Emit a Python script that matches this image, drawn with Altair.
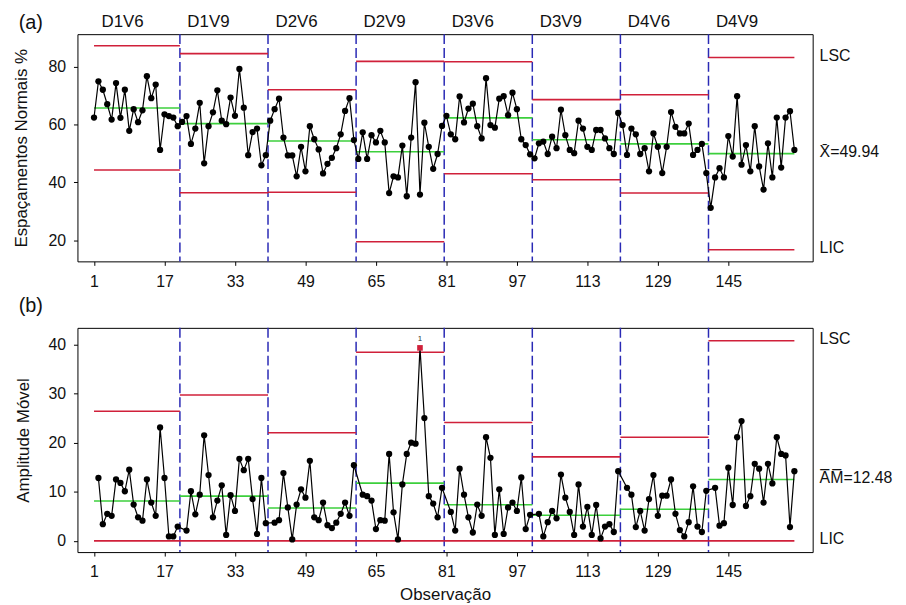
import altair as alt
import pandas as pd

# ---------------- data ----------------
stages = ["D1V6", "D1V9", "D2V6", "D2V9", "D3V6", "D3V9", "D4V6", "D4V9"]
x_ticks = [1, 17, 33, 49, 65, 81, 97, 113, 129, 145]
y_ticks_a = [20, 40, 60, 80]
y_ticks_b = [0, 10, 20, 30, 40]

# (a) individual values, 20 observations per stage
values_a = [
    62.4, 74.9, 72.0, 67.0, 61.7, 74.3, 62.3, 72.0, 57.8, 65.3, 60.8, 64.9, 76.7, 69.1, 73.8, 51.2, 63.5, 62.9, 62.4, 59.4,
    60.9, 62.9, 53.3, 58.6, 67.5, 46.6, 59.4, 64.2, 71.8, 61.3, 60.1, 69.3, 63.0, 79.2, 65.8, 49.4, 57.4, 58.6, 45.9, 49.4,
    61.3, 65.3, 68.9, 55.5, 49.3, 49.3, 42.1, 52.3, 43.8, 59.4, 54.9, 51.4, 43.1, 46.4, 48.5, 51.8, 56.6, 64.7, 69.1, 54.6,
    48.1, 57.3, 48.1, 56.3, 53.8, 57.8, 53.8, 36.3, 42.1, 41.7, 52.7, 35.2, 55.5, 74.6, 35.8, 60.6, 52.3, 44.7, 49.8, 59.5,
    63.0, 56.6, 54.9, 69.7, 60.7, 65.5, 67.2, 59.4, 55.2, 76.0, 59.8, 58.9, 68.9, 69.8, 63.2, 71.0, 65.3, 54.9, 52.9, 49.7,
    48.3, 53.5, 54.1, 49.8, 55.8, 51.8, 65.1, 56.3, 51.2, 50.1, 61.3, 58.6, 52.3, 51.2, 58.1, 58.1, 55.2, 51.8, 49.8, 64.0,
    59.8, 49.5, 58.6, 56.6, 49.8, 51.8, 43.8, 56.9, 52.3, 43.2, 52.3, 64.3, 59.2, 56.9, 56.9, 60.3, 49.5, 51.2, 53.3, 43.2,
    31.2, 41.7, 44.9, 41.7, 56.0, 48.9, 69.8, 46.1, 52.9, 43.8, 59.4, 45.5, 37.5, 53.5, 41.7, 62.4, 45.1, 62.4, 64.6, 51.2,
]

# (b) moving ranges (first observation of each stage has none)
values_b = [
    None, 12.8, 3.4, 5.5, 5.1, 12.5, 11.8, 10.1, 14.5, 7.4, 4.8, 4.1, 12.5, 7.8, 5.1, 23.1, 12.8, 0.9, 0.9, 2.9,
    None, 2.1, 10.1, 5.4, 9.4, 21.5, 13.4, 4.8, 8.2, 11.3, 1.2, 9.3, 6.1, 16.7, 14.4, 16.7, 8.5, 1.4, 12.8, 3.6,
    None, 3.7, 4.2, 13.8, 6.8, 0.3, 7.4, 10.5, 8.8, 16.3, 4.8, 4.2, 7.8, 3.2, 2.6, 3.7, 5.5, 7.8, 5.1, 15.4,
    None, 9.4, 9.1, 8.2, 2.4, 4.2, 4.1, 17.7, 5.8, 0.3, 11.5, 17.7, 20.0, 19.8, 39.3, 25.0, 9.1, 7.6, 4.8, 10.8,
    None, 5.9, 2.1, 14.7, 9.4, 4.8, 1.7, 7.4, 5.1, 21.1, 16.9, 1.2, 10.5, 1.4, 6.8, 7.8, 6.1, 12.9, 2.4, 5.3,
    None, 5.5, 0.9, 3.8, 6.1, 4.6, 13.5, 8.8, 5.9, 1.2, 11.5, 2.9, 6.9, 1.2, 7.3, 0.5, 2.9, 3.4, 1.8, 14.2,
    None, 10.8, 9.4, 2.8, 6.1, 2.1, 8.5, 13.4, 5.1, 9.2, 9.2, 12.5, 5.5, 2.2, 0.9, 3.8, 11.1, 2.9, 1.8, 10.2,
    None, 10.8, 3.1, 3.6, 14.9, 7.3, 21.1, 24.4, 7.1, 9.1, 15.7, 14.7, 7.8, 15.7, 11.7, 21.1, 17.7, 17.4, 2.8, 14.2,
]

center_a = [65.7, 60.3, 54.3, 50.6, 62.3, 54.75, 53.3, 49.94]
upper_a = [87.2, 84.5, 72.0, 81.8, 81.7, 68.6, 70.3, 83.14]
lower_a = [44.3, 36.4, 36.6, 19.5, 43.0, 40.9, 36.3, 16.74]

center_b = [8.1, 9.1, 6.7, 11.75, 7.35, 5.2, 6.45, 12.48]
upper_b = [26.4, 29.7, 22.0, 38.4, 24.1, 17.1, 21.1, 40.77]
lower_b = [0, 0, 0, 0, 0, 0, 0, 0]

right_a = ["LSC", "X\u0304=49.94", "LIC"]
right_b = ["LSC", "A\u0305M\u0305=12.48", "LIC"]

# ---------------- styling / layout ----------------
FONT = "Liberation Sans"
TXT = "#111111"
RED = "#d0203a"
GREEN = "#3ccf3c"
BLUE = "#2a2ab5"
W = 741
H_A = 229
H_B = 226
X_DOMAIN = [-2.76, 164.15]

N_OBS = 160
SEG = 20
obs = list(range(1, N_OBS + 1))
stage_idx = [(o - 1) // SEG for o in obs]
seg_start = [1] + [SEG * k + 0.5 for k in range(1, len(stages))]
seg_end = [SEG * (k + 1) + 0.5 for k in range(len(stages) - 1)] + [N_OBS]
bounds = [SEG * k + 0.5 for k in range(1, len(stages))]

xscale = alt.Scale(domain=X_DOMAIN, nice=False, zero=False)


def make_x_axis(title):
    kw = dict(values=x_ticks, grid=False, domain=False, ticks=True, tickSize=4,
              tickColor="black", labelPadding=8, labelFontSize=16, labelFont=FONT,
              labelColor=TXT, labelFlush=False)
    if title:
        kw.update(title=title, titleFont=FONT, titleFontSize=17, titleFontWeight="normal",
                  titleColor=TXT, titleY=43, titleBaseline="middle")
    else:
        kw.update(title=None)
    return alt.Axis(**kw)


def make_y_axis(title, ticks, height, tx):
    return alt.Axis(values=ticks, grid=False, domain=False, ticks=True, tickSize=4,
                    tickColor="black", labelPadding=8, labelFontSize=16, labelFont=FONT,
                    labelColor=TXT, title=title, titleFont=FONT, titleFontSize=17,
                    titleFontWeight="normal", titleColor=TXT, titleX=tx, titleY=height / 2,
                    titleBaseline="middle", titleAlign="center", titleAngle=270)


def panel(values, center, upper, lower, ydomain, yticks, ytitle, tx, height, xtitle,
          tag, tag_y, right_texts, show_stages):
    xaxis = make_x_axis(xtitle)
    yaxis = make_y_axis(ytitle, yticks, height, tx)
    yscale = alt.Scale(domain=ydomain, nice=False, zero=False)

    df_pts = pd.DataFrame({"obs": obs, "v": values, "s": stage_idx}).dropna()
    df_pts["out"] = [(v > upper[s]) or (v < lower[s]) for v, s in zip(df_pts["v"], df_pts["s"])]
    df_lim = pd.DataFrame({"start": seg_start, "end": seg_end, "ucl": upper,
                           "cl": center, "lcl": lower, "stage": stages})
    df_bnd = pd.DataFrame({"b": bounds})
    df_right = pd.DataFrame({"x": [N_OBS] * 3, "y": [upper[-1], center[-1], lower[-1]],
                             "t": right_texts})
    df_tag = pd.DataFrame({"t": [tag]})

    X = lambda f: alt.X(f, scale=xscale, axis=xaxis)
    Y = lambda f: alt.Y(f, scale=yscale, axis=yaxis)

    layers = []
    layers.append(alt.Chart(df_bnd).mark_rule(color=BLUE, strokeWidth=1.5, strokeDash=[10, 4])
                  .encode(x=X("b:Q")))
    layers.append(alt.Chart(df_lim).mark_rule(color=RED, strokeWidth=1.6)
                  .encode(x=X("start:Q"), x2="end:Q", y=Y("ucl:Q")))
    layers.append(alt.Chart(df_lim).mark_rule(color=RED, strokeWidth=1.6)
                  .encode(x=X("start:Q"), x2="end:Q", y=Y("lcl:Q")))
    layers.append(alt.Chart(df_lim).mark_rule(color=GREEN, strokeWidth=1.6)
                  .encode(x=X("start:Q"), x2="end:Q", y=Y("cl:Q")))
    layers.append(alt.Chart(df_pts).mark_line(color="black", strokeWidth=1.2)
                  .encode(x=X("obs:Q"), y=Y("v:Q")))
    layers.append(alt.Chart(df_pts[~df_pts["out"]]).mark_circle(color="black", size=40, opacity=1)
                  .encode(x=X("obs:Q"), y=Y("v:Q")))
    df_out = df_pts[df_pts["out"]]
    if len(df_out):
        layers.append(alt.Chart(df_out).mark_square(color=RED, size=32, opacity=1)
                      .encode(x=X("obs:Q"), y=Y("v:Q")))
        layers.append(alt.Chart(df_out).mark_text(fontSize=8, font=FONT, color="#333", dy=-9)
                      .encode(x=X("obs:Q"), y=Y("v:Q"), text=alt.value("1")))
    if show_stages:
        layers.append(alt.Chart(df_lim).mark_text(align="left", baseline="middle", dx=7.5,
                                                  fontSize=17, font=FONT, color=TXT)
                      .encode(x=X("start:Q"), y=alt.value(-12.5), text="stage:N"))
    layers.append(alt.Chart(df_right).mark_text(align="left", baseline="middle", dx=25.4, dy=-1.5,
                                                fontSize=16, font=FONT, color=TXT)
                  .encode(x=X("x:Q"), y=Y("y:Q"), text="t:N"))
    layers.append(alt.Chart(df_tag).mark_text(align="center", baseline="middle",
                                              fontSize=20, font=FONT, color=TXT)
                  .encode(x=alt.value(-47), y=alt.value(tag_y), text="t:N"))
    return alt.layer(*layers).properties(width=W, height=height)


top = panel(values_a, center_a, upper_a, lower_a, [12.70, 91.21], y_ticks_a,
            "Espaçamentos Normais %", -56, H_A, None, "(a)", -11.6, right_a, True)
bottom = panel(values_b, center_b, upper_b, lower_b, [-2.29, 43.38], y_ticks_b,
               "Amplitude Móvel", -54, H_B, "Observação", "(b)", -22, right_b, False)

chart = (
    alt.vconcat(top, bottom, spacing=5)
    .properties(padding={"left": 4, "top": 1, "right": 5, "bottom": 5}, background="white")
    .configure_view(stroke="black", strokeWidth=1)
)

chart.save("out.html", embed_options={"renderer": "svg", "actions": False})
